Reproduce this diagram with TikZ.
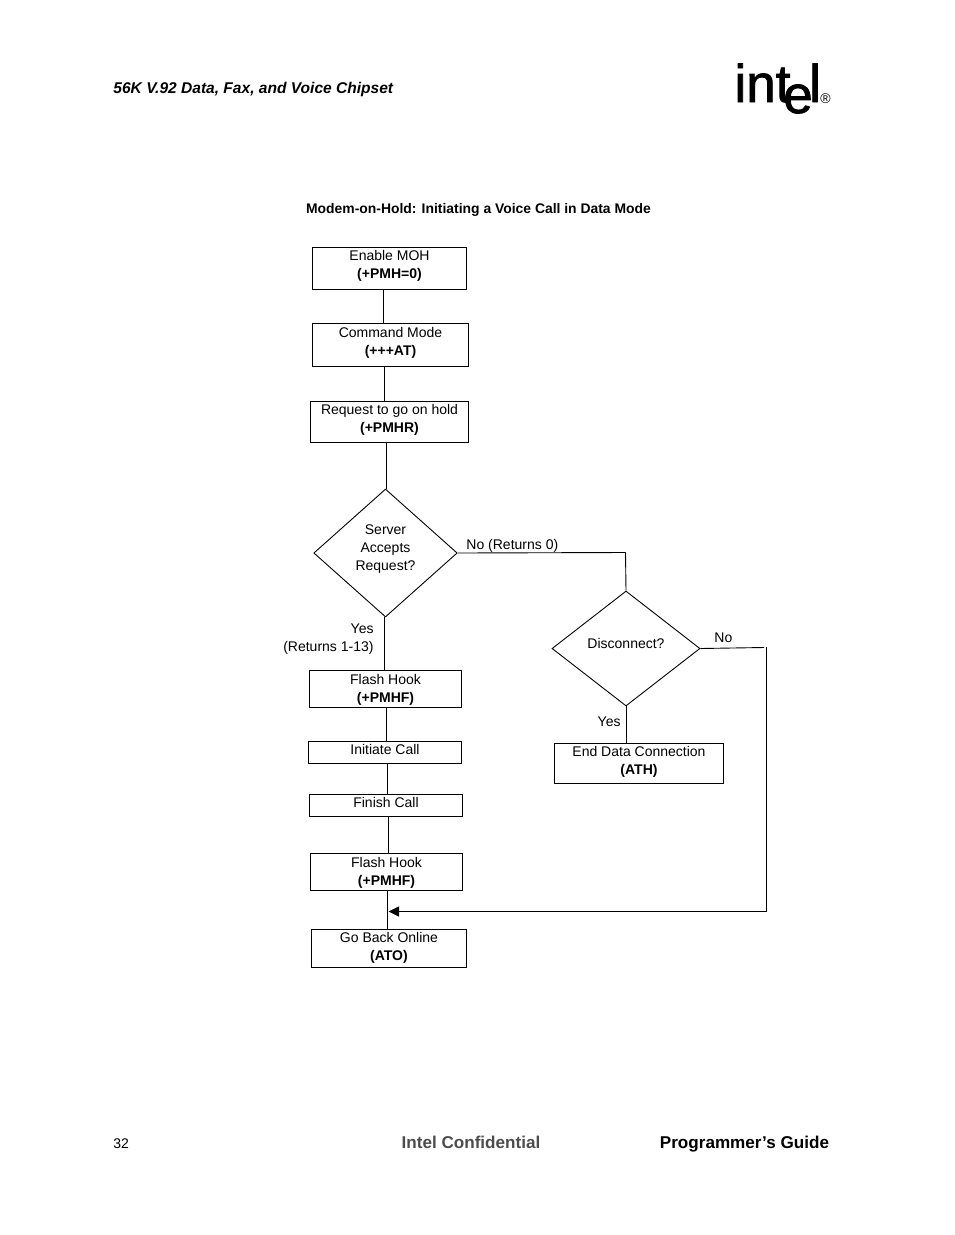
\documentclass[tikz,border=0pt]{standalone}
\usepackage{fontspec}
\setmainfont{Liberation Sans}
\newfontfamily\logofont[FakeBold=1.5]{Liberation Sans}
\usetikzlibrary{arrows.meta, positioning, shapes.geometric}

\begin{document}
\begin{tikzpicture}[
    x=1pt, y=-1pt,
    node distance = 34pt and 34pt,
    punkt/.style = {rectangle, draw, anchor=north, align=center, inner sep=0pt},
    valg/.style = {diamond, draw, aspect=1.13, align=center, inner sep=0pt, text depth=10.4pt},
    tekst/.style = {inner sep=0pt},
    pil/.style = {black},
    font=\fontsize{14}{18}\selectfont,
    line width=0.9pt
    ]
  \useasboundingbox (0,0) rectangle (954,1235);

  % page head and foot
  \node[tekst,anchor=base west,font=\fontsize{15.55}{18}\selectfont\bfseries\itshape] (head) at (113,93) {56K V.92 Data, Fax, and Voice Chipset};
  \node[tekst,anchor=base,font=\fontsize{53}{53}\logofont] (logoint) at (762.5,102) {int};
  \node[tekst,anchor=base,font=\fontsize{53}{53}\logofont] (logoe) at (798,113) {e};
  \node[tekst,anchor=base,font=\fontsize{53}{53}\logofont] (logol) at (815,102) {l};
  \node[tekst,anchor=center,font=\fontsize{14}{14}\selectfont] (logor) at (825.5,99) {\textregistered};
  \node[tekst,anchor=base west] (page) at (113,1148) {32};
  \node[tekst,anchor=base,font=\fontsize{17.1}{20}\selectfont\bfseries,text=black!70] (conf) at (471,1148) {Intel Confidential};
  \node[tekst,anchor=base east,font=\fontsize{17.1}{20}\selectfont\bfseries] (guide) at (829.5,1148) {Programmer’s Guide};

  \node[tekst,anchor=base,font=\fontsize{13.9}{16}\selectfont\bfseries] (title) at (478.5,213) {Modem-on-Hold: Initiating a Voice Call in Data Mode};

  % left column
  \node[punkt,minimum width=154pt,minimum height=42pt,text depth=8.4pt] (enable) at (389.5,247) {Enable MOH\\\textbf{(+PMH=0)}};
  \node[punkt,minimum width=156pt,minimum height=43pt,text depth=7.1pt] (command) [below=33pt of enable.south, xshift=1pt] {Command Mode\\\textbf{(+++AT)}};
  \node[punkt,minimum width=158pt,minimum height=41pt,text depth=7.4pt] (request) [below=34pt of command.south, xshift=-1pt] {Request to go on hold\\\textbf{(+PMHR)}};
  \node[valg,minimum width=143.5pt,minimum height=128pt] (server) at (385.5,553) {Server\\Accepts\\Request?};
  \node[punkt,minimum width=152pt,minimum height=37pt,text depth=1.1pt] (flasha) at (385.5,670) {Flash Hook\\\textbf{(+PMHF)}};
  \node[punkt,minimum width=153pt,minimum height=22pt,text depth=6.4pt] (initiate) [below=33pt of flasha.south, xshift=-0.5pt] {Initiate Call};
  \node[punkt,minimum width=153pt,minimum height=22pt,text depth=6.4pt] (finish) [below=30pt of initiate.south, xshift=1pt] {Finish Call};
  \node[punkt,minimum width=152pt,minimum height=37pt,text depth=1.1pt] (flashb) [below=36pt of finish.south, xshift=0.5pt] {Flash Hook\\\textbf{(+PMHF)}};
  \node[punkt,minimum width=155pt,minimum height=38pt,text depth=2.4pt] (online) [below=38pt of flashb.south, xshift=2.5pt] {Go Back Online\\\textbf{(ATO)}};

  % right column
  \node[valg,minimum width=148pt,minimum height=115pt] (disc) at (626,648.5) {Disconnect?};
  \node[punkt,minimum width=169pt,minimum height=40pt,text depth=6.4pt] (endcon) at (639,743) {End Data Connection\\\textbf{(ATH)}};

  % labels
  \node[tekst,anchor=base west] (lnoa) at (466,549) {No (Returns 0)};
  \node[tekst,anchor=base east,align=right] (lyesa) at (374,651) {Yes\\(Returns 1-13)};
  \node[tekst,anchor=base west] (lnob) at (714,642) {No};
  \node[tekst,anchor=base east] (lyesb) at (621,726) {Yes};

  % turning points
  \coordinate (corner) at (625.5,552.5);
  \coordinate (nobend) at (764,647.5);
  \coordinate (backa) at (766.5,647);
  \coordinate (backb) at (766.5,911.5);
  \coordinate (join) at (388.5,911.5);

  \draw[pil] ([xshift=-6pt]enable.south) -- ([xshift=-6pt]enable.south |- command.north);
  \draw[pil] ([xshift=-6pt]command.south) -- ([xshift=-6pt]command.south |- request.north);
  \draw[pil] ([xshift=-3pt]request.south) -- ([xshift=-3pt]request.south |- server.north);
  \draw[pil] ([xshift=-1pt]server.south) -- ([xshift=-1pt]server.south |- flasha.north);
  \draw[pil] ([xshift=1pt]flasha.south) -- ([xshift=1pt]flasha.south |- initiate.north);
  \draw[pil] ([xshift=2.5pt]initiate.south) -- ([xshift=2.5pt]initiate.south |- finish.north);
  \draw[pil] ([xshift=2.5pt]finish.south) -- ([xshift=2.5pt]finish.south |- flashb.north);
  \draw[pil] ([xshift=1pt]flashb.south) -- ([xshift=1pt]flashb.south |- online.north);
  \draw[pil] (server.east) -- (corner) -- (disc.north);
  \draw[pil] (disc.south) -- (disc.south |- endcon.north);
  \draw[pil] (disc.east) -- (nobend);
  \draw[pil] (backa) -- (backb);
  \draw[pil,-{Triangle[length=10.5pt,width=10pt]}] (backb) -- (join);
\end{tikzpicture}
\end{document}
